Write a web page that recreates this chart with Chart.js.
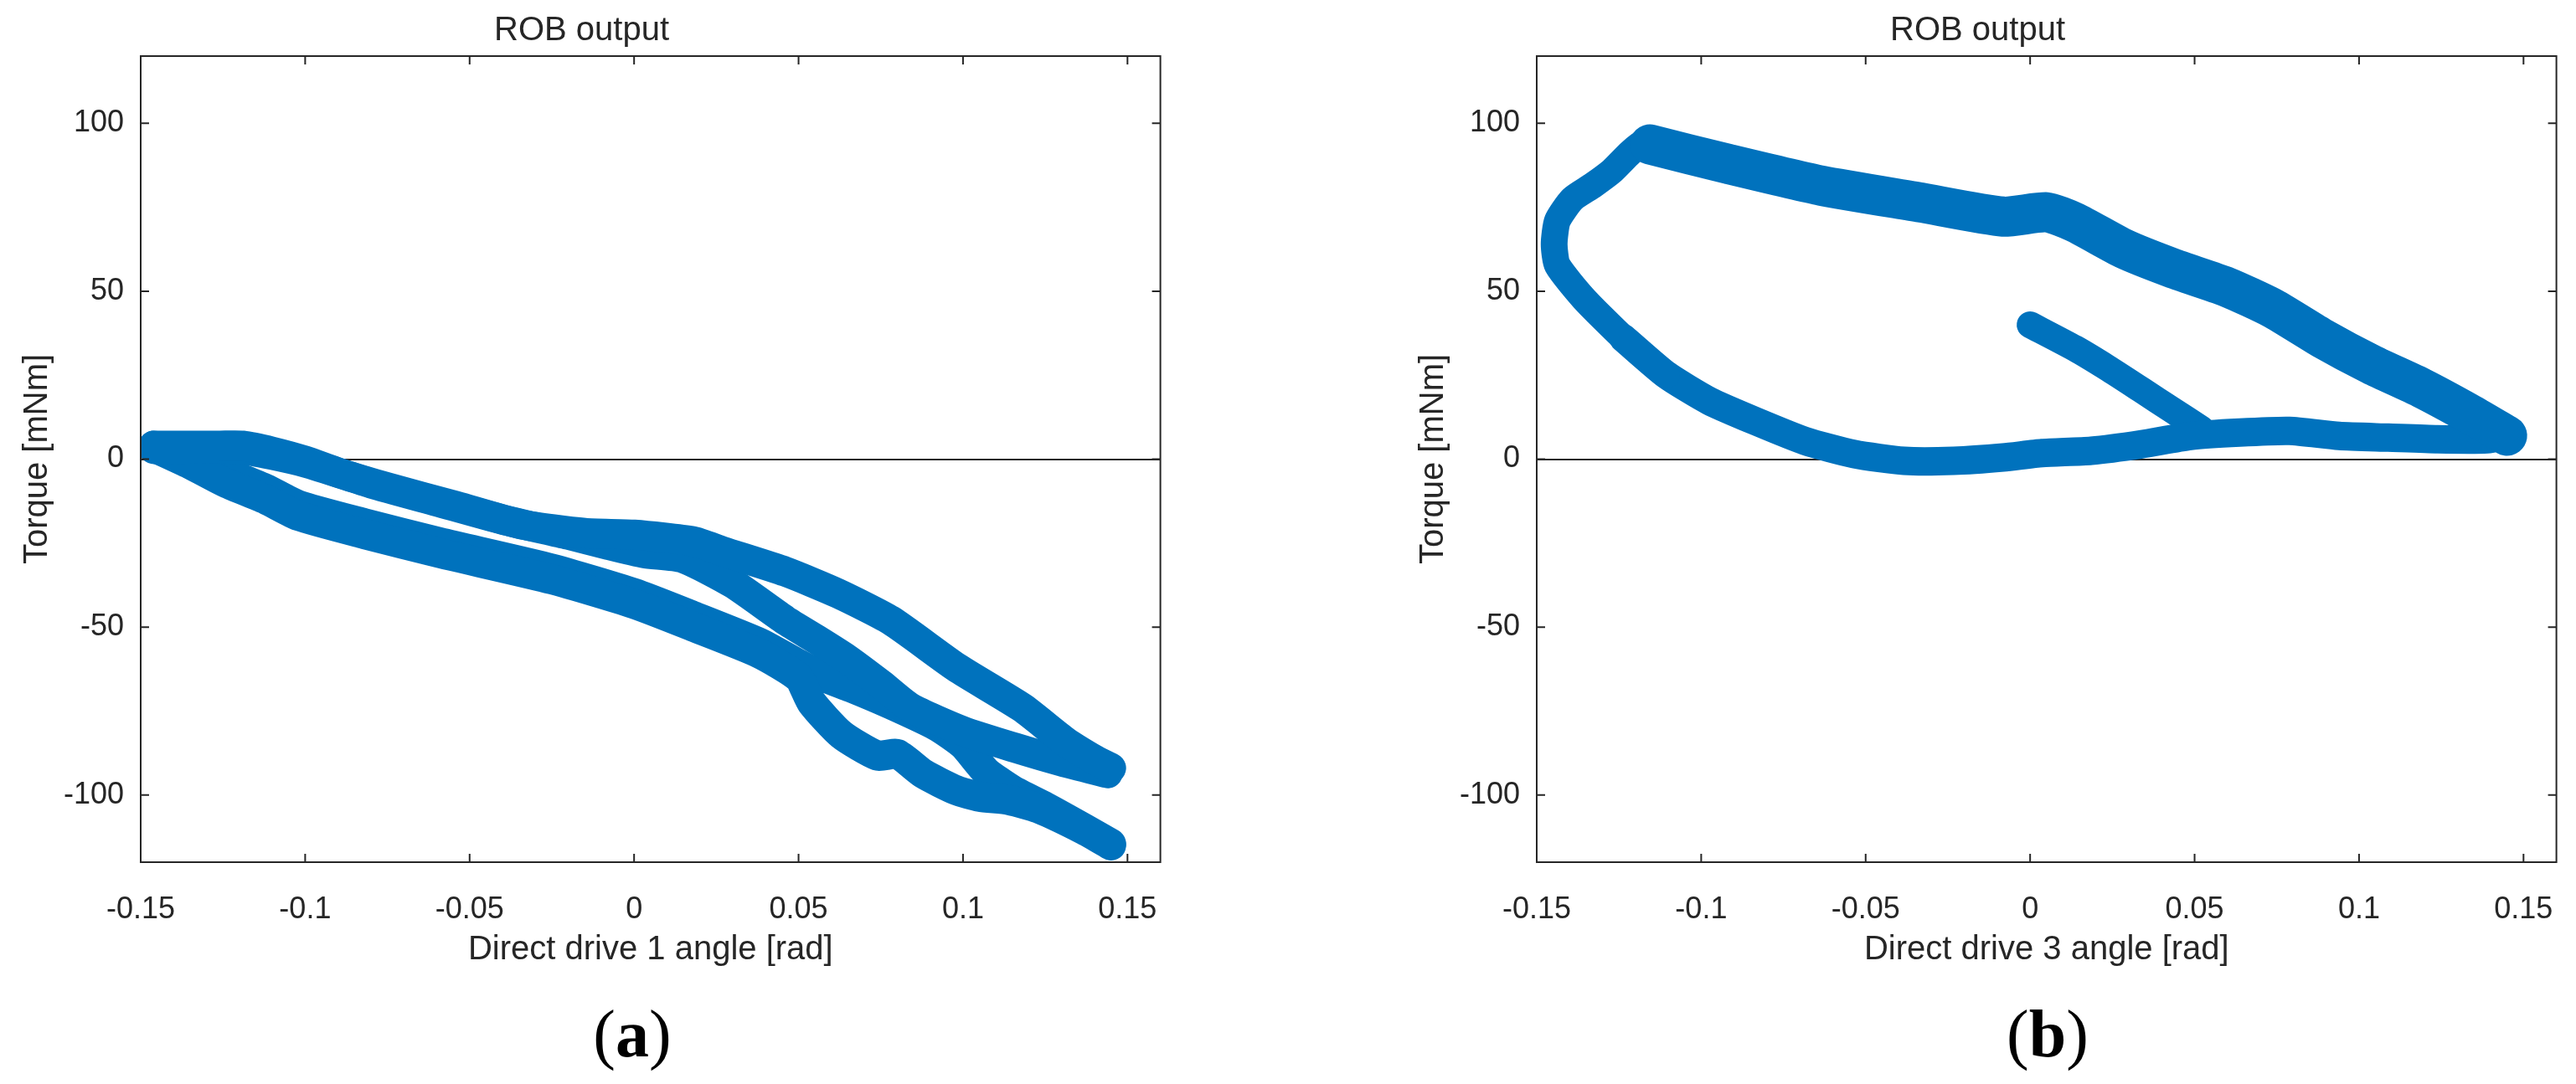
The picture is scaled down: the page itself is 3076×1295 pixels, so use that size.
<!DOCTYPE html>
<html>
<head>
<meta charset="utf-8">
<title>ROB output</title>
<script src="https://cdn.jsdelivr.net/npm/chart.js"></script>
<style>
html, body { margin: 0; padding: 0; background: #fff; }
body { width: 3076px; height: 1295px; position: relative; overflow: hidden; }
canvas { position: absolute; top: 0; }
#chartA { left: 0px; }
#chartB { left: 1667px; }
.tag { position: absolute; top: 1187px; width: 200px; text-align: center;
  font-family: "Liberation Serif", "Times New Roman", serif; font-size: 80px; color: #000; line-height: 96px; }
</style>
</head>
<body>
<canvas id="chartA" width="1409" height="1180"></canvas>
<canvas id="chartB" width="1409" height="1180"></canvas>
<div class="tag" style="left:655px">(<b>a</b>)</div>
<div class="tag" style="left:2345px">(<b>b</b>)</div>
<script>
// axis ticks
const xTicks = [-0.15, -0.1, -0.05, 0, 0.05, 0.1, 0.15];
const xTickLabels = ['-0.15', '-0.1', '-0.05', '0', '0.05', '0.1', '0.15'];
const yTicks = [-100, -50, 0, 50, 100];
const yTickLabels = ['-100', '-50', '0', '50', '100'];

// panel (a): direct drive 1, strands
const a1X = [-0.146, -0.136, -0.126, -0.119, -0.11, -0.1, -0.09, -0.074, -0.054, -0.034, -0.015, 0.0, 0.018, 0.027, 0.046, 0.062, 0.078, 0.098, 0.118, 0.131, 0.14, 0.145];
const a1Y = [4, 4, 4, 4, 2.2, -0.5, -4, -8.7, -14, -19.5, -22, -22.5, -24.5, -27.5, -33.5, -40, -48, -62, -74, -84, -89.5, -92];
const a2X = [-0.146, -0.135, -0.124, -0.112, -0.102, -0.082, -0.059, -0.025, 0.0, 0.018, 0.038, 0.05, 0.054, 0.063, 0.074, 0.08, 0.088, 0.098, 0.105, 0.114, 0.123, 0.137, 0.145];
const a2Y = [3.5, -1.5, -7.1, -12, -16.9, -22.3, -28, -35.8, -43.1, -49.9, -57.8, -65, -72.5, -82, -88.3, -87.8, -93.7, -98.6, -100.5, -101.5, -104, -110.5, -115];
const a3X = [-0.146, -0.12, -0.1, -0.08, -0.06, -0.04, -0.02, -0.008, 0.003, 0.015, 0.03, 0.046, 0.056, 0.064, 0.075, 0.084, 0.1, 0.116, 0.13, 0.144];
const a3Y = [3, 3, -1, -7.2, -12.6, -18, -22.5, -25.5, -28, -29.5, -37, -48, -54, -59, -67, -74, -81, -86, -90, -93.5];
const a4X = [-0.146, -0.135, -0.124, -0.112, -0.102, -0.082, -0.059, -0.025, 0.0, 0.018, 0.038, 0.05, 0.058, 0.066, 0.078, 0.092, 0.1, 0.107, 0.115, 0.125, 0.137, 0.145];
const a4Y = [4, 1, -3.9, -8.8, -13.7, -19.1, -24.8, -32.6, -39.9, -46.7, -54.6, -61, -65, -68, -73, -79.5, -85, -93, -98.5, -103.5, -110, -114.5];

// panel (b): direct drive 3
const bTopX = [0.145, 0.134, 0.119, 0.1039, 0.0888, 0.0738, 0.0597, 0.0437, 0.0286, 0.0136, 0.005, -0.0082, -0.0333, -0.0634, -0.0915, -0.1156];
const bTopY = [7, 13.3, 21.2, 28.1, 36, 44.9, 51.3, 56.7, 62.6, 70.5, 73.5, 72.2, 76.4, 81.4, 87.8, 93.7];
const bLeftX = [-0.1156, -0.1176, -0.1216, -0.1271, -0.1331, -0.1392, -0.1437, -0.1447, -0.1437, -0.1357, -0.1236, -0.1106];
const bLeftY = [93.7, 94.2, 91.2, 85.8, 81.4, 77.4, 71, 64, 57.7, 47.8, 36, 25.1];
const bBottomX = [-0.1236, -0.1106, -0.0975, -0.0835, -0.0684, -0.0534, -0.0383, -0.0233, -0.0082, 0.0036, 0.0186, 0.0337, 0.0487, 0.0637, 0.0788, 0.0939, 0.1089, 0.1239, 0.139, 0.145];
const bBottomY = [36, 25.1, 17.3, 11.3, 5.4, 1.5, -0.5, -0.5, 0.5, 1.8, 2.5, 4.4, 6.9, 7.9, 8.4, 6.9, 6.4, 5.9, 5.9, 7];
const bInnerX = [0.0, 0.0136, 0.0236, 0.0337, 0.0437, 0.052];
const bInnerY = [40, 33, 27.1, 20.7, 14.3, 9];

const blue = '#0072BD';
const ink = '#262626';
const family = '"Liberation Sans", Arial, Helvetica, sans-serif';

function pts(xs, ys) {
  return xs.map((x, i) => ({ x: x, y: ys[i] }));
}

function strand(xs, ys, w) {
  return {
    data: pts(xs, ys),
    showLine: true,
    borderColor: blue,
    backgroundColor: blue,
    borderWidth: w,
    borderCapStyle: 'round',
    borderJoinStyle: 'round',
    tension: 0.2,
    pointRadius: 0,
    clip: 0
  };
}

// matlab style box with inward ticks
const boxPlugin = {
  id: 'box',
  afterDatasetsDraw(chart) {
    const { ctx, chartArea: a, scales } = chart;
    const t = 10;
    ctx.save();
    ctx.strokeStyle = ink;
    ctx.lineWidth = 2;
    ctx.strokeRect(a.left, a.top, a.right - a.left, a.bottom - a.top);
    ctx.beginPath();
    scales.x.ticks.forEach(k => {
      const px = scales.x.getPixelForValue(k.value);
      ctx.moveTo(px, a.bottom); ctx.lineTo(px, a.bottom - t);
      ctx.moveTo(px, a.top); ctx.lineTo(px, a.top + t);
    });
    scales.y.ticks.forEach(k => {
      const py = scales.y.getPixelForValue(k.value);
      ctx.moveTo(a.left, py); ctx.lineTo(a.left + t, py);
      ctx.moveTo(a.right, py); ctx.lineTo(a.right - t, py);
    });
    ctx.stroke();
    ctx.restore();
  }
};

function makeChart(id, datasets, xTitle) {
  const tickFont = { family: family, size: 36, lineHeight: 1.2 };
  const labelFont = { family: family, size: 40, lineHeight: 1.2 };
  return new Chart(document.getElementById(id), {
    type: 'scatter',
    data: { datasets: datasets },
    options: {
      responsive: false,
      animation: false,
      devicePixelRatio: 1,
      layout: { padding: { left: 0, right: 20, top: 0, bottom: 0 } },
      plugins: {
        legend: { display: false },
        tooltip: { enabled: false },
        title: {
          display: true, text: 'ROB output', color: ink,
          font: { family: family, size: 40, weight: 'normal', lineHeight: 1.2 },
          padding: { top: 13, bottom: 6 }
        }
      },
      scales: {
        x: {
          type: 'linear', min: -0.15, max: 0.16,
          afterBuildTicks: s => { s.ticks = xTicks.map(v => ({ value: v })); },
          afterFit: s => { s.height = 150; },
          ticks: { callback: (v, i) => xTickLabels[i], padding: 27, font: tickFont, color: ink, maxRotation: 0, autoSkip: false },
          grid: { display: false },
          border: { display: false },
          title: { display: true, text: xTitle, color: ink, font: labelFont, padding: { top: 0, bottom: 21 } }
        },
        y: {
          type: 'linear', min: -120, max: 120,
          afterBuildTicks: s => { s.ticks = yTicks.map(v => ({ value: v })); },
          afterFit: s => { s.width = 168; },
          ticks: { callback: (v, i) => yTickLabels[i], padding: 20, font: tickFont, color: ink, autoSkip: false },
          grid: {
            drawTicks: false, lineWidth: 2,
            color: c => (c.tick && c.tick.value === 0 ? ink : 'rgba(0,0,0,0)')
          },
          border: { display: false },
          title: { display: true, text: 'Torque [mNm]', color: ink, font: labelFont, padding: { top: 21, bottom: 0 } }
        }
      }
    },
    plugins: [boxPlugin]
  });
}

makeChart('chartA', [
  strand(a1X, a1Y, 36),
  strand(a3X, a3Y, 36),
  strand(a2X, a2Y, 36),
  strand(a4X, a4Y, 36)
], 'Direct drive 1 angle [rad]');

makeChart('chartB', [
  strand(bTopX, bTopY, 48),
  strand(bLeftX, bLeftY, 32),
  strand(bBottomX, bBottomY, 34),
  strand(bInnerX, bInnerY, 32)
], 'Direct drive 3 angle [rad]');
</script>
</body>
</html>
